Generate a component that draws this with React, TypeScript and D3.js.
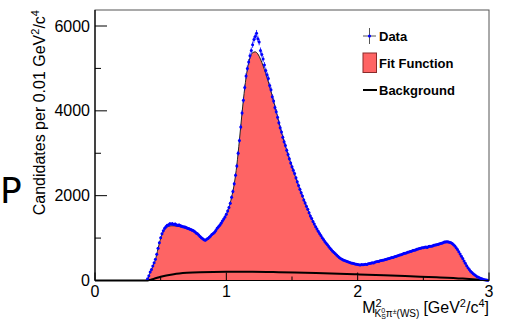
import React from "react";
import * as d3 from "d3";

// Data histogram: bin centres from 0.40 step 0.01
const dataStart = 0.40;
const dataStep = 0.01;
const dataValues: number[] = [
  40, 110, 200, 260, 340, 420, 500, 620, 760, 890,
  1010, 1100, 1170, 1230, 1270, 1300, 1310, 1340, 1330, 1340,
  1320, 1330, 1310, 1300, 1310, 1290, 1280, 1270, 1260, 1255,
  1240, 1225, 1215, 1200, 1185, 1170, 1150, 1120, 1100, 1070,
  1040, 1010, 985, 960, 950, 975, 990, 1020, 1050, 1085,
  1110, 1140, 1180, 1230, 1265, 1300, 1350, 1400, 1450, 1500,
  1560, 1640, 1720, 1820, 1960, 2100, 2280, 2480, 2700, 3000,
  3300, 3620, 3950, 4250, 4550, 4820, 5000, 5150, 5300, 5420,
  5560, 5680, 5750, 5830, 5700, 5620, 5420, 5330, 5220, 5080,
  4950, 4850, 4760, 4600, 4500, 4330, 4230, 4080, 3980, 3850,
  3720, 3600, 3500, 3380, 3270, 3180, 3070, 2970, 2870, 2770,
  2680, 2600, 2520, 2420, 2330, 2240, 2150, 2070, 1990, 1900,
  1830, 1750, 1680, 1600, 1520, 1460, 1390, 1330, 1270, 1215,
  1160, 1110, 1060, 1010, 965, 920, 880, 840, 800, 760,
  725, 690, 660, 630, 600, 570, 545, 520, 500, 485,
  470, 458, 445, 435, 425, 415, 405, 398, 390, 385,
  380, 372, 368, 375, 370, 378, 385, 380, 395, 400,
  405, 420, 415, 430, 440, 445, 450, 465, 470, 475,
  485, 495, 500, 515, 520, 530, 540, 545, 560, 565,
  580, 590, 600, 610, 620, 635, 640, 650, 665, 670,
  685, 690, 705, 715, 720, 735, 745, 755, 760, 770,
  775, 785, 790, 780, 800, 805, 810, 815, 830, 835,
  840, 850, 860, 870, 880, 890, 905, 910, 915, 910,
  900, 890, 870, 845, 815, 775, 730, 680, 625, 570,
  520, 460, 405, 350, 300, 260, 220, 190, 160, 135,
  110, 90, 75, 60, 45, 35, 25, 18, 10, 5,
];

// Fit function sampled from 0.38 step 0.02
const fitStart = 0.38;
const fitStep = 0.02;
const fitValues: number[] = [
  0, 30, 190, 330, 490, 750, 990, 1150, 1235, 1275,
  1290, 1290, 1283, 1272, 1260, 1245, 1228, 1208, 1182, 1148,
  1100, 1045, 990, 955, 985, 1045, 1105, 1175, 1255, 1345,
  1445, 1555, 1720, 1960, 2270, 2720, 3320, 3960, 4540, 4980,
  5250, 5370, 5390, 5340, 5220, 5060, 4880, 4680, 4460, 4230,
  3990, 3740, 3500, 3280, 3070, 2870, 2680, 2500, 2320, 2150,
  1985, 1825, 1675, 1525, 1390, 1265, 1155, 1055, 960, 875,
  795, 720, 655, 598, 545, 500, 468, 442, 422, 404,
  390, 380, 374, 373, 380, 392, 405, 420, 437, 455,
  472, 490, 508, 525, 545, 565, 585, 605, 625, 645,
  665, 685, 705, 722, 742, 760, 775, 788, 800, 812,
  828, 845, 862, 880, 900, 910, 900, 870, 815, 730,
  625, 515, 405, 300, 220, 160, 112, 75, 46, 26,
  11, 0,
];

// Background component
const bgX: number[] = [0, 0.39, 0.42, 0.45, 0.5, 0.6, 0.7, 0.8, 1.0, 1.2, 1.4, 1.6, 1.8, 2.0, 2.2, 2.4, 2.6, 2.8, 2.9, 3.0];
const bgY: number[] = [0, 0, 15, 40, 90, 150, 180, 195, 205, 205, 195, 180, 165, 145, 125, 100, 75, 45, 25, 0];

const yMajorTicks = [0, 2000, 4000, 6000];
const yMinorTicks = [1000, 3000, 5000];
const xMajorTicks = [0, 1, 2, 3];
const xMinorTicks = [0.5, 1.5, 2.5];

export default function App() {
  const W = 508, H = 323;
  const left = 95, right = 489, top = 10, bottom = 280.5;
  const x = d3.scaleLinear().domain([0, 3]).range([left, right]);
  const y = d3.scaleLinear().domain([0, 6000]).range([bottom, 26]);

  const fitPts: [number, number][] = [[0, 0], ...fitValues.map((v, i) => [fitStart + i * fitStep, v] as [number, number])];
  const area = d3.area<[number, number]>().x(d => x(d[0])).y0(y(0)).y1(d => y(d[1])).curve(d3.curveMonotoneX);
  const line = d3.line<[number, number]>().x(d => x(d[0])).y(d => y(d[1])).curve(d3.curveMonotoneX);
  const bgPts: [number, number][] = bgX.map((v, i) => [v, bgY[i]]);

  const dataPts = dataValues.map((v, i) => ({ xv: dataStart + i * dataStep, v }));

  const font = "Liberation Sans, Arial, Helvetica, sans-serif";
  const red = "#fe6464";
  const blue = "#0000ff";

  return (
    <svg width={W} height={H} style={{ position: "absolute", left: 0, top: 0, background: "#fff" }} fontFamily={font}>
      <text x={0} y={203} fontSize={36} fill="#000" fontFamily="DejaVu Sans, sans-serif">P</text>
      {/* fit area */}
      <path d={area(fitPts) || ""} fill={red} stroke="none" />
      <path d={line(fitPts) || ""} fill="none" stroke="#222" strokeWidth={1} />
      {/* background */}
      <path d={line(bgPts) || ""} fill="none" stroke="#000" strokeWidth={2} />
      {/* data */}
      <g>
        {dataPts.map((d, i) => {
          const e = Math.sqrt(d.v);
          return (
            <g key={i}>
              <line x1={x(d.xv)} x2={x(d.xv)} y1={y(d.v - e)} y2={y(d.v + e)} stroke={blue} strokeWidth={0.8} />
              <line x1={x(d.xv - dataStep / 2)} x2={x(d.xv + dataStep / 2)} y1={y(d.v)} y2={y(d.v)} stroke={blue} strokeWidth={0.8} />
              <circle cx={x(d.xv)} cy={y(d.v)} r={1.5} fill={blue} />
            </g>
          );
        })}
      </g>
      {/* frame */}
      <rect x={left} y={top} width={right - left} height={bottom - top} fill="none" stroke="#555" strokeWidth={1} />
      <line x1={left} x2={right} y1={bottom} y2={bottom} stroke="#000" strokeWidth={1.2} />
      <line x1={left} x2={left} y1={top} y2={bottom} stroke="#000" strokeWidth={1.2} />
      {/* y ticks */}
      {yMajorTicks.map(t => (
        <g key={"ym" + t}>
          <line x1={left} x2={left + 12} y1={y(t)} y2={y(t)} stroke="#000" strokeWidth={1} />
          <text x={90} y={y(t) + 5.5} fontSize={16} textAnchor="end">{t}</text>
        </g>
      ))}
      {yMinorTicks.map(t => (
        <line key={"yn" + t} x1={left} x2={left + 6} y1={y(t)} y2={y(t)} stroke="#000" strokeWidth={1} />
      ))}
      {/* x ticks */}
      {xMajorTicks.map(t => (
        <g key={"xm" + t}>
          <line x1={x(t)} x2={x(t)} y1={bottom} y2={bottom - 8} stroke="#000" strokeWidth={1} />
          <text x={x(t)} y={297} fontSize={16} textAnchor="middle">{t}</text>
        </g>
      ))}
      {xMinorTicks.map(t => (
        <line key={"xn" + t} x1={x(t)} x2={x(t)} y1={bottom} y2={bottom - 4} stroke="#000" strokeWidth={1} />
      ))}
      {/* y title */}
      <text transform={`translate(45,${top}) rotate(-90)`} textAnchor="end" fontSize={16}>
        Candidates per 0.01 GeV<tspan dy={-6} fontSize={11}>2</tspan><tspan dy={6}>/c</tspan><tspan dy={-6} fontSize={11}>4</tspan>
      </text>
      {/* x title */}
      <text x={right} y={313} textAnchor="end" fontSize={16}>
        M<tspan dy={-6} fontSize={11}>2</tspan>
        <tspan dx={-7} dy={10} fontSize={10}>K</tspan>
        <tspan dy={-4} fontSize={7}>0</tspan>
        <tspan dx={-4} dy={6} fontSize={7}>S</tspan>
        <tspan dy={-2} fontSize={10}>π</tspan>
        <tspan dy={-3} fontSize={7}>±</tspan>
        <tspan dy={3} fontSize={10}>(WS)</tspan>
        <tspan dx={4} dy={-4}>[GeV</tspan>
        <tspan dy={-6} fontSize={11}>2</tspan>
        <tspan dy={6}>/c</tspan>
        <tspan dy={-6} fontSize={11}>4</tspan>
        <tspan dy={6}>]</tspan>
      </text>
      {/* legend */}
      <g fontWeight="bold" fontSize={13}>
        <line x1={363} x2={376} y1={36} y2={36} stroke="#555" strokeWidth={1} />
        <line x1={369.5} x2={369.5} y1={28} y2={44} stroke="#555" strokeWidth={1} />
        <circle cx={369.5} cy={36} r={1.6} fill={blue} />
        <text x={379} y={40.5}>Data</text>
        <rect x={363} y={53} width={13.5} height={19.5} fill={red} stroke="#8a2a2a" strokeWidth={1} />
        <text x={379} y={67.5}>Fit Function</text>
        <line x1={363} x2={377} y1={90} y2={90} stroke="#000" strokeWidth={2} />
        <text x={379} y={94.5}>Background</text>
      </g>
    </svg>
  );
}
